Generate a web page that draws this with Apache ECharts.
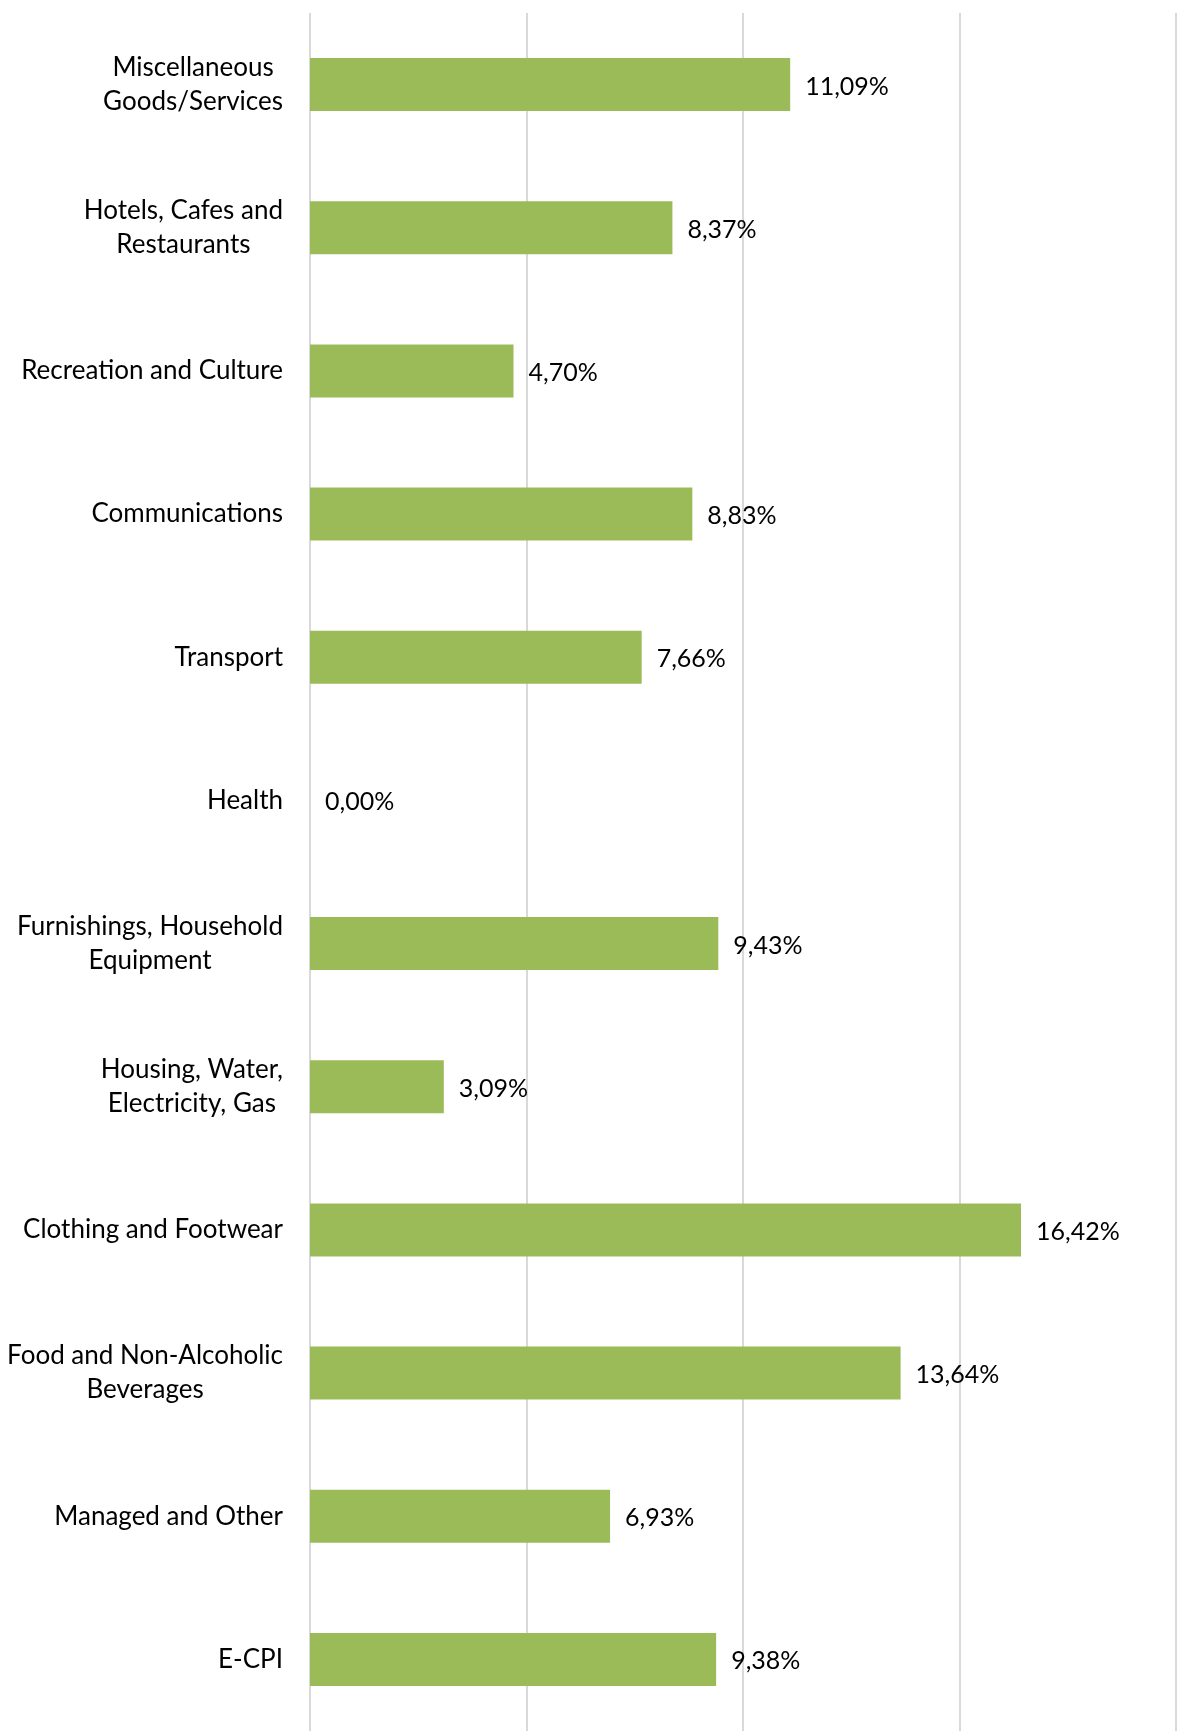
<!DOCTYPE html>
<html>
<head>
<meta charset="utf-8">
<script src="https://cdn.jsdelivr.net/npm/echarts@6/dist/echarts.min.js"></script>
<style>
  html, body { margin: 0; padding: 0; background: #fff; }
  #chart { width: 1181px; height: 1731px; }
</style>
</head>
<body>
<div id="chart"></div>
<script>
// top to bottom, as in the picture
const categories = [
  'Miscellaneous\nGoods/Services',
  'Hotels, Cafes and\nRestaurants',
  'Recreation and Culture',
  'Communications',
  'Transport',
  'Health',
  'Furnishings, Household\nEquipment',
  'Housing, Water,\nElectricity, Gas',
  'Clothing and Footwear',
  'Food and Non-Alcoholic\nBeverages',
  'Managed and Other',
  'E-CPI'
]
const values = [11.09, 8.37, 4.70, 8.83, 7.66, 0.00, 9.43, 3.09, 16.42, 13.64, 6.93, 9.38]

const axisMin = 0
const axisMax = 20
const axisStep = 5

const fontFamily = 'Lato, "Open Sans", sans-serif'

const chart = echarts.init(document.getElementById('chart'))

chart.setOption({
  animation: false,
  backgroundColor: '#fff',
  grid: {
    left: 310,
    right: 5,
    top: 13,
    height: 1723,
    containLabel: false
  },
  xAxis: {
    type: 'value',
    min: axisMin,
    max: axisMax,
    interval: axisStep,
    axisLabel: { show: false },
    axisLine: { show: false },
    axisTick: { show: false },
    splitLine: {
      show: true,
      lineStyle: { color: '#d9d9d9', width: 2 }
    }
  },
  yAxis: {
    type: 'category',
    inverse: true,
    data: categories,
    axisLine: { show: false },
    axisTick: { show: false },
    axisLabel: {
      margin: 27,
      color: '#000',
      fontFamily: fontFamily,
      fontSize: 26,
      lineHeight: 34,
      formatter: v => v.split('\n').map(s => '{c|' + s + '}').join('\n'),
      rich: {
        c: {
          align: 'center',
          color: '#000',
          fontFamily: fontFamily,
          fontSize: 26,
          lineHeight: 34
        }
      }
    }
  },
  series: [{
    type: 'bar',
    data: values,
    barWidth: 53,
    itemStyle: { color: '#9bbb59' },
    label: {
      show: true,
      position: 'right',
      distance: 15,
      offset: [0, 2],
      color: '#000',
      fontFamily: fontFamily,
      fontSize: 25,
      formatter: p => p.value.toFixed(2).replace('.', ',') + '%'
    }
  }]
})
</script>
</body>
</html>
